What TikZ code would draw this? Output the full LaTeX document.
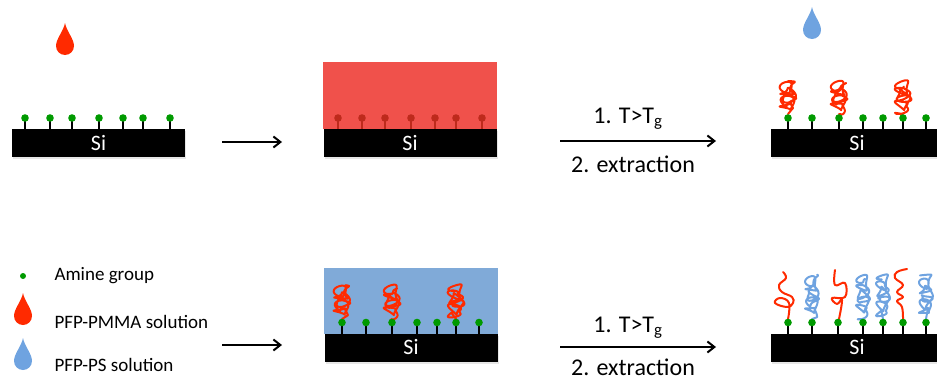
\documentclass[tikz,border=0pt]{standalone}
\usepackage{fontspec}
\setmainfont{Carlito}
\usetikzlibrary{shadows,arrows.meta}

\definecolor{amineGreen}{HTML}{009A00}
\definecolor{pmmaRed}{HTML}{FF2A00}
\definecolor{filmRed}{HTML}{F0514B}
\definecolor{buriedRed}{HTML}{BE2A1C}
\definecolor{psBlue}{HTML}{6FA3E0}
\definecolor{filmBlue}{HTML}{80AAD8}

\tikzset{
  substrate/.style={fill=black,text=white,minimum width=173pt,minimum height=28pt,inner sep=0pt,
    font=\fontsize{22}{22}\selectfont,drop shadow={opacity=0.2,shadow xshift=1pt,shadow yshift=-2pt}},
  chain/.style={line width=2pt,line cap=round,line join=round},
  proc/.style={-{Straight Barb[length=7pt,width=11pt]},line width=2pt},
  legend/.style={anchor=west,font=\fontsize{19}{21}\selectfont},
  cond/.style={anchor=base,font=\fontsize{24}{26}\selectfont},
  pics/drop/.style={code={
    \fill[pic actions] (0,-23) .. controls (1.5,-15) and (9,-7) .. (9,0)
      arc[start angle=0,end angle=180,radius=9] .. controls (-9,-7) and (-1.5,-15) .. (0,-23) -- cycle;}}
}

% amines: x positions, surface y, stem colour, head colour
\newcommand\amines[4]{%
  \foreach \ax in {#1} {
    \draw[line width=1.6pt,#3] (\ax,#2) -- (\ax,#2-11);
    \fill[#4] (\ax,#2-11) circle[radius=3.8];
  }}
% grafted coil: x, top y, bottom y, colour, phase, half width
\newcommand\polycoil[6]{%
  \draw[chain,#4] plot[domain=0:1,samples=200,smooth,variable=\s]
    ({#1+#6*sin(\s*1900+#5)+0.4*#6*sin(\s*4300+2*#5)},
     {#2+(#3-#2-5)*\s-5*cos(\s*1900+#5)+2*cos(\s*3100+#5)})
    -- (#1,#3);}

\begin{document}
\begin{tikzpicture}[x=1pt,y=-1pt]
  \useasboundingbox (0,0) rectangle (937,380);

  % Top row %
  \pic[fill=pmmaRed] at (65,46) {drop};
  \amines{25,50,72,99,123,143,170}{129}{black}{amineGreen}
  \node[substrate] (si1) at (98.5,143) {Si};

  \fill[filmRed] (323,62) rectangle (497,129);
  \amines{338,362,385,411,435,456,482}{129}{buriedRed}{buriedRed}
  \node[substrate] (si2) at (410,143) {Si};

  \pic[fill=psBlue] at (812,30) {drop};
  \foreach \cx/\ph in {788/0,839/70,903/150} {\polycoil{\cx}{84}{114}{pmmaRed}{\ph}{6}}
  \amines{788,812,839,863,883,903,926}{129}{black}{amineGreen}
  \node[substrate] (si3) at (857,143) {Si};

  \coordinate (a1s) at (222,142);
  \coordinate (a1e) at (282,142);
  \draw[proc] (a1s) -- (a1e);
  \coordinate (b1s) at (560,141);
  \coordinate (b1e) at (716,141);
  \draw[proc] (b1s) -- (b1e);
  \node[cond] (c1) at (628,123) {1. T>T\textsubscript{g}};
  \node[cond] (d1) at (633,172) {2. extraction};

  % Bottom row %
  \fill[filmBlue] (324,268) rectangle (498,333.5);
  \foreach \cx/\ph in {342/20,392/100,456/200} {\polycoil{\cx}{288}{319}{pmmaRed}{\ph}{6}}
  \amines{342,366,392,417,437,456,479}{333.5}{black}{amineGreen}
  \node[substrate] (si4) at (411,347.5) {Si};

  \draw[chain,pmmaRed] plot[smooth,tension=0.7] coordinates {(783,272) (786,278) (779,285) (782,292)
    (792,297) (793,303) (787,307) (775,303) (780,298) (789,303) (788,319)};
  \draw[chain,pmmaRed] plot[smooth,tension=0.7] coordinates {(835,270) (835,285) (845,283) (845,297)
    (832,298) (837,304) (842,300) (839,319)};
  \draw[chain,pmmaRed] plot[smooth,tension=0.7] coordinates {(907,269) (897,272) (895,278) (903,285)
    (897,292) (903,297) (897,301) (902,307) (903,319)};
  \foreach \cx/\ph in {812/40,863/130,883/220,926/300} {\polycoil{\cx}{277}{319}{psBlue}{\ph}{5}}
  \amines{788,812,838,863,883,903,926}{333.5}{black}{amineGreen}
  \node[substrate] (si5) at (857,347.5) {Si};

  \coordinate (a2s) at (222,345);
  \coordinate (a2e) at (282,345);
  \draw[proc] (a2s) -- (a2e);
  \coordinate (b2s) at (560,347);
  \coordinate (b2e) at (716,347);
  \draw[proc] (b2s) -- (b2e);
  \node[cond] (c2) at (628,332) {1. T>T\textsubscript{g}};
  \node[cond] (d2) at (633,375) {2. extraction};

  % Legend %
  \fill[amineGreen] (23,276) circle[radius=3];
  \node[legend] (l1) at (51,276) {Amine group};
  \pic[fill=pmmaRed] at (23,316) {drop};
  \node[legend] (l2) at (51,322) {PFP-PMMA solution};
  \pic[fill=psBlue] at (23,361) {drop};
  \node[legend] (l3) at (51,365) {PFP-PS solution};
\end{tikzpicture}
\end{document}
